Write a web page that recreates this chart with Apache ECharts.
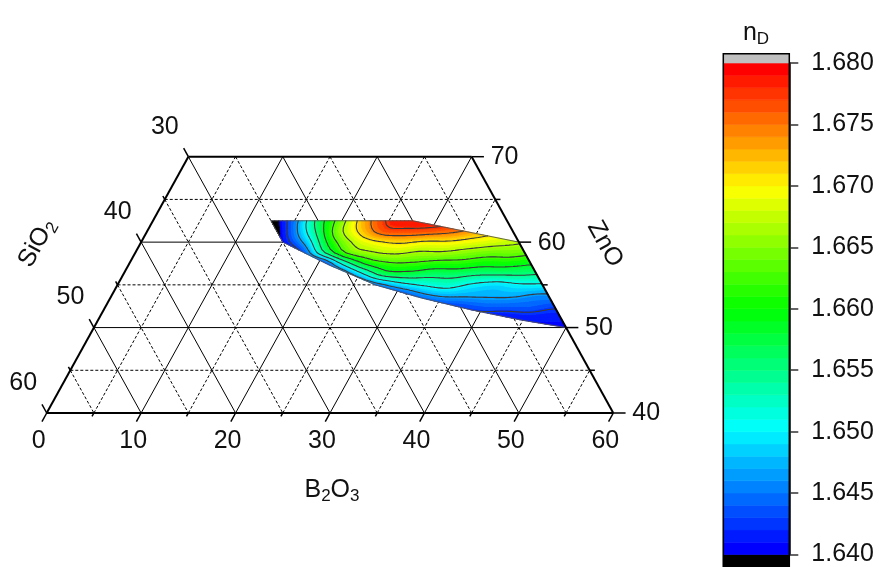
<!DOCTYPE html>
<html>
<head>
<meta charset="utf-8">
<title>nD ternary contour</title>
<script src="https://cdn.jsdelivr.net/npm/echarts@6/dist/echarts.min.js"></script>
<style>
html,body{margin:0;padding:0;background:#fff;}
#chart{width:880px;height:567px;}
</style>
</head>
<body>
<div id="chart"></div>
<script>
// ---------- axis ticks ----------
const b2o3Ticks = [0, 10, 20, 30, 40, 50, 60];
const sio2Ticks = [30, 40, 50, 60];
const znoTicks = [40, 50, 60, 70];
const minorStep = 5;

// ---------- sampled field: rows = ZnO level, columns = B2O3 level ----------
const gridB2O3 = [10, 12.5, 15, 17.5, 20, 22.5, 25, 27.5, 30, 32.5, 35, 37.5, 40, 42.5, 45, 47.5, 50];
const gridZnO = [50, 51.25, 52.5, 53.75, 55, 56.25, 57.5, 58.75, 60, 61.25, 62.5];
const nD_Zn50_00 = [1.632,1.632,1.632,1.632,1.632,1.632,1.632,1.633,1.634,1.635,1.637,1.638,1.639,1.640,1.6405,1.6405,1.6405];
const nD_Zn51_25 = [1.632,1.632,1.632,1.632,1.632,1.632,1.633,1.634,1.635,1.637,1.639,1.640,1.641,1.641,1.6415,1.6415,1.6415];
const nD_Zn52_50 = [1.632,1.632,1.632,1.632,1.632,1.633,1.634,1.636,1.638,1.640,1.642,1.643,1.644,1.644,1.644,1.643,1.643];
const nD_Zn53_75 = [1.632,1.632,1.632,1.632,1.633,1.634,1.636,1.638,1.641,1.645,1.647,1.647,1.647,1.647,1.646,1.646,1.645];
const nD_Zn55_00 = [1.632,1.632,1.632,1.633,1.634,1.636,1.640,1.645,1.649,1.651,1.652,1.650,1.649,1.650,1.650,1.649,1.648];
const nD_Zn56_25 = [1.632,1.632,1.633,1.634,1.636,1.641,1.649,1.656,1.657,1.656,1.656,1.655,1.655,1.655,1.654,1.653,1.652];
const nD_Zn57_50 = [1.632,1.633,1.634,1.636,1.640,1.651,1.659,1.662,1.662,1.661,1.661,1.660,1.660,1.659,1.658,1.657,1.656];
const nD_Zn58_75 = [1.632,1.634,1.637,1.642,1.654,1.663,1.666,1.667,1.666,1.666,1.665,1.664,1.664,1.663,1.662,1.661,1.660];
const nD_Zn60_00 = [1.632,1.635,1.6405,1.648,1.660,1.667,1.670,1.671,1.670,1.670,1.669,1.668,1.667,1.666,1.665,1.664,1.663];
const nD_Zn61_25 = [1.632,1.636,1.643,1.653,1.664,1.671,1.676,1.6765,1.676,1.675,1.673,1.671,1.669,1.668,1.667,1.666,1.665];
const nD_Zn62_50 = [1.634,1.638,1.645,1.656,1.665,1.673,1.678,1.679,1.679,1.678,1.677,1.675,1.673,1.672,1.671,1.670,1.669];
const nDGrid = [nD_Zn50_00, nD_Zn51_25, nD_Zn52_50, nD_Zn53_75, nD_Zn55_00, nD_Zn56_25,
                nD_Zn57_50, nD_Zn58_75, nD_Zn60_00, nD_Zn61_25, nD_Zn62_50];

// measured composition region (B2O3, ZnO) boundary
const regionB2O3 = [12.5, 27.5, 40, 50, 44.7, 38.8, 32.8, 27.3, 21.3, 15];
const regionZnO  = [62.5, 62.5, 60, 50, 50.9, 52.1, 53.5, 55.0, 57.3, 60];

// colour scale and contour levels
const nDMin = 1.640, nDMax = 1.680, nDStep = 0.001, nDTickStep = 0.005;
const contourLevels = [1.6425, 1.6465, 1.6505, 1.6545, 1.6585, 1.6625, 1.6665, 1.6705, 1.6745, 1.6775];

const FONT = '"Liberation Sans", Arial, Helvetica, sans-serif';
const TXT = '#111';

// ---------- helpers ----------
function tern2xy(b, z) { return [b + (z - 40) / 2, z - 40]; }
const nBands = Math.round((nDMax - nDMin) / nDStep);
const stops = [[0,0,255],[0,255,255],[0,255,0],[255,255,0],[255,0,0]];
function bandColor(k) {
  if (k < 0) return '#000000';
  if (k >= nBands) return '#c0c0c0';
  const t = k / (nBands - 1) * (stops.length - 1);
  const i = Math.min(stops.length - 2, Math.floor(t)), f = t - i;
  const c = stops[i].map((v, j) => Math.round(v + (stops[i + 1][j] - v) * f));
  return 'rgb(' + c.join(',') + ')';
}
function bandIndex(v) {
  if (v < nDMin) return -1;
  if (v >= nDMax) return nBands;
  return Math.floor((v - nDMin) / nDStep + 1e-9);
}
function ndAt(b, z) {
  const fb = (b - gridB2O3[0]) / (gridB2O3[1] - gridB2O3[0]);
  const fz = (z - gridZnO[0]) / (gridZnO[1] - gridZnO[0]);
  const ib = Math.floor(fb), iz = Math.floor(fz);
  const tb = fb - ib, tz = fz - iz;
  const nB = gridB2O3.length, nZ = gridZnO.length;
  const g = (i, j) => nDGrid[Math.max(0, Math.min(nZ - 1, i))][Math.max(0, Math.min(nB - 1, j))];
  const cr = (p0, p1, p2, p3, t) => 0.5 * (2 * p1 + (-p0 + p2) * t + (2 * p0 - 5 * p1 + 4 * p2 - p3) * t * t + (-p0 + 3 * p1 - 3 * p2 + p3) * t * t * t);
  const r = [];
  for (let m = -1; m <= 2; m++) r.push(cr(g(iz + m, ib - 1), g(iz + m, ib), g(iz + m, ib + 1), g(iz + m, ib + 2), tb));
  return cr(r[0], r[1], r[2], r[3], tz);
}
function clipPoly(poly, f) {
  const out = [], n = poly.length;
  for (let i = 0; i < n; i++) {
    const a = poly[i], b = poly[(i + 1) % n];
    const fa = f(a), fb = f(b);
    if (fa >= 0) out.push(a);
    if ((fa >= 0) !== (fb >= 0)) {
      const t = fa / (fa - fb);
      out.push([a[0] + (b[0] - a[0]) * t, a[1] + (b[1] - a[1]) * t, a[2] + (b[2] - a[2]) * t]);
    }
  }
  return out;
}
function polyPath(poly) {
  let s = 'M' + poly[0][0].toFixed(2) + ' ' + poly[0][1].toFixed(2);
  for (let i = 1; i < poly.length; i++) s += 'L' + poly[i][0].toFixed(2) + ' ' + poly[i][1].toFixed(2);
  return s + 'Z';
}

// ---------- render: grid lines ----------
function renderGridLines(params, api) {
  const P = (b, z) => api.coord(tern2xy(b, z));
  const ch = [];
  const line = (p, q, solid) => ch.push({
    type: 'line', silent: true,
    shape: { x1: p[0], y1: p[1], x2: q[0], y2: q[1] },
    style: { stroke: '#000', lineWidth: 1, lineDash: solid ? null : [3, 2] }
  });
  for (let z = 40 + minorStep; z < 70; z += minorStep) line(P(0, z), P(100 - z, z), z % 10 === 0);
  for (let b = minorStep; b < 60; b += minorStep) line(P(b, 40), P(b, Math.min(70, 100 - b)), b % 10 === 0);
  for (let s = minorStep; s < 60; s += minorStep) {
    const zt = Math.min(70, 100 - s);
    line(P(100 - s - zt, zt), P(60 - s, 40), s % 10 === 0);
  }
  return { type: 'group', children: ch };
}

// ---------- render: contour field ----------
function renderField(params, api) {
  const P = (b, z) => api.coord(tern2xy(b, z));
  const reg = regionB2O3.map((b, i) => P(b, regionZnO[i]));
  let area = 0;
  for (let i = 0; i < reg.length; i++) {
    const a = reg[i], c = reg[(i + 1) % reg.length];
    area += a[0] * c[1] - c[0] * a[1];
  }
  const sg = area > 0 ? 1 : -1;
  const edges = reg.map((a, i) => {
    const c = reg[(i + 1) % reg.length];
    return p => sg * ((c[0] - a[0]) * (p[1] - a[1]) - (c[1] - a[1]) * (p[0] - a[0]));
  });
  const rx = reg.map(p => p[0]), ry = reg.map(p => p[1]);
  const bx0 = Math.min(...rx), bx1 = Math.max(...rx), by0 = Math.min(...ry), by1 = Math.max(...ry);
  const subB = 6, subZ = 3;
  const db = (gridB2O3[1] - gridB2O3[0]) / subB, dz = (gridZnO[1] - gridZnO[0]) / subZ;
  const nb = (gridB2O3.length - 1) * subB, nz = (gridZnO.length - 1) * subZ;
  const V = [];
  for (let j = 0; j <= nz; j++) {
    const row = [];
    for (let i = 0; i <= nb; i++) {
      const b = gridB2O3[0] + i * db, z = gridZnO[0] + j * dz;
      const p = P(b, z);
      row.push([p[0], p[1], ndAt(b, z)]);
    }
    V.push(row);
  }
  const bandPaths = {};
  let linePath = '';
  const handle = (tri) => {
    const xs = tri.map(p => p[0]), ys = tri.map(p => p[1]);
    if (Math.max(...xs) < bx0 || Math.min(...xs) > bx1 || Math.max(...ys) < by0 || Math.min(...ys) > by1) return;
    let poly = tri;
    for (const f of edges) { poly = clipPoly(poly, f); if (poly.length < 3) return; }
    const vs = poly.map(p => p[2]);
    const vmin = Math.min(...vs), vmax = Math.max(...vs);
    const k0 = bandIndex(vmin), k1 = bandIndex(vmax);
    for (let k = k0; k <= k1; k++) {
      let piece = poly;
      if (k >= 0) { const lo = nDMin + k * nDStep; piece = clipPoly(piece, p => p[2] - lo); }
      if (piece.length >= 3 && k < nBands) { const hi = nDMin + (k + 1) * nDStep; piece = clipPoly(piece, p => hi - p[2]); }
      if (piece.length >= 3) bandPaths[k] = (bandPaths[k] || '') + polyPath(piece);
    }
    for (const L of contourLevels) {
      if (L <= vmin || L >= vmax) continue;
      const pts = [];
      for (let i = 0; i < poly.length; i++) {
        const a = poly[i], c = poly[(i + 1) % poly.length];
        if ((a[2] - L) * (c[2] - L) < 0) {
          const t = (L - a[2]) / (c[2] - a[2]);
          pts.push([a[0] + (c[0] - a[0]) * t, a[1] + (c[1] - a[1]) * t]);
        }
      }
      if (pts.length === 2) linePath += 'M' + pts[0][0].toFixed(2) + ' ' + pts[0][1].toFixed(2) + 'L' + pts[1][0].toFixed(2) + ' ' + pts[1][1].toFixed(2);
    }
  };
  for (let j = 0; j < nz; j++) for (let i = 0; i < nb; i++) {
    const a = V[j][i], b = V[j][i + 1], c = V[j + 1][i + 1], d = V[j + 1][i];
    handle([a, b, c]);
    handle([a, c, d]);
  }
  const ch = [];
  Object.keys(bandPaths).forEach(k => {
    const col = bandColor(+k);
    ch.push({ type: 'path', silent: true, shape: { pathData: bandPaths[k] }, style: { fill: col, stroke: col, lineWidth: 0.7 } });
  });
  if (linePath) ch.push({ type: 'path', silent: true, shape: { pathData: linePath }, style: { fill: 'none', stroke: '#3a3a3a', lineWidth: 1.1, lineCap: 'round', lineJoin: 'round' } });
  ch.push({ type: 'polygon', silent: true, shape: { points: reg }, style: { fill: 'none', stroke: '#555', lineWidth: 0.9 } });
  return { type: 'group', children: ch };
}

// ---------- render: frame, ticks, labels ----------
function renderFrame(params, api) {
  const P = (b, z) => api.coord(tern2xy(b, z));
  const ch = [];
  const seg = (p, q, w) => ch.push({ type: 'line', silent: true, shape: { x1: p[0], y1: p[1], x2: q[0], y2: q[1] }, style: { stroke: '#000', lineWidth: w } });
  const text = (x, y, s, align) => ch.push({ type: 'text', silent: true, x: x, y: y,
    style: { text: s, fill: TXT, fontSize: 25, fontFamily: FONT, align: align, verticalAlign: 'middle', textAlign: align, textVerticalAlign: 'middle' } });
  seg(P(0, 40), P(60, 40), 2);
  seg(P(0, 70), P(30, 70), 2);
  seg(P(0, 40), P(0, 70), 2);
  seg(P(30, 70), P(60, 40), 2);
  for (let b = 0; b <= 60; b += minorStep) { const L = b % 10 === 0 ? 1.0 : 0.4; seg(P(b, 40), P(b, 40 - L), 1.5); }
  for (let z = 40; z <= 70; z += minorStep) { const L = z % 10 === 0 ? 1.3 : 0.55; seg(P(100 - z, z), P(100 - z + L, z), 1.5); }
  for (let s = 30; s <= 60; s += minorStep) { const L = s % 10 === 0 ? 1.0 : 0.4; seg(P(0, 100 - s), P(-L, 100 - s + L), 1.5); }
  b2o3Ticks.forEach(b => { const p = P(b, 40); text(p[0] - 8, p[1] + 28.5, String(b), 'center'); });
  znoTicks.forEach(z => { const p = P(100 - z, z); text(p[0] + 19, p[1] + 0.5, String(z), 'left'); });
  sio2Ticks.forEach(s => { const p = P(0, 100 - s); text(p[0] - 23.5, p[1] - 30, String(s), 'center'); });
  return { type: 'group', children: ch };
}

// ---------- render: colour bar ----------
function renderBar(params, api) {
  const ch = [];
  const topExtra = 0.00075;
  const rect = (lo, hi, fill, stroke, lw) => {
    const p = api.coord([0, hi]), q = api.coord([1, lo]);
    ch.push({ type: 'rect', silent: true, shape: { x: p[0], y: p[1], width: q[0] - p[0], height: q[1] - p[1] },
      style: { fill: fill, stroke: stroke, lineWidth: lw } });
  };
  rect(nDMin - nDStep, nDMin, bandColor(-1), bandColor(-1), 0.6);
  for (let k = 0; k < nBands; k++) rect(nDMin + k * nDStep, nDMin + (k + 1) * nDStep, bandColor(k), bandColor(k), 0.6);
  rect(nDMax, nDMax + topExtra, bandColor(nBands), bandColor(nBands), 0.6);
  rect(nDMin - nDStep, nDMax + topExtra, 'none', '#000', 1.5);
  return { type: 'group', children: ch };
}

const rich = {
  m: { fontSize: 25, fontFamily: FONT, fill: TXT, color: TXT, lineHeight: 30 },
  s: { fontSize: 17, fontFamily: FONT, fill: TXT, color: TXT, lineHeight: 16, verticalAlign: 'bottom' }
};
function title(x, y, txt, rotDeg) {
  return { type: 'text', x: x, y: y, rotation: rotDeg * Math.PI / 180, silent: true,
    style: { text: txt, rich: rich, fill: TXT, fontSize: 25, fontFamily: FONT,
      align: 'center', verticalAlign: 'middle', textAlign: 'center', textVerticalAlign: 'middle' } };
}

const chart = echarts.init(document.getElementById('chart'), null, { renderer: 'canvas' });
chart.setOption({
  animation: false,
  backgroundColor: '#ffffff',
  grid: [
    { left: 46.7, top: 156.7, width: 566.6, height: 256.3 },
    { left: 723.3, top: 63, width: 66, height: 494 }
  ],
  xAxis: [
    { gridIndex: 0, type: 'value', min: 0, max: 60, show: false },
    { gridIndex: 1, type: 'value', min: 0, max: 1, show: false }
  ],
  yAxis: [
    { gridIndex: 0, type: 'value', min: 0, max: 30, show: false },
    { gridIndex: 1, type: 'value', min: nDMin, max: nDMax, interval: nDTickStep, position: 'right',
      axisLine: { show: true, onZero: false, lineStyle: { color: '#000', width: 1.5 } },
      axisTick: { show: true, length: 9, lineStyle: { color: '#333', width: 1.5 } },
      splitLine: { show: false },
      axisLabel: { margin: 22, fontSize: 25, fontFamily: FONT, color: TXT, formatter: v => v.toFixed(3) } }
  ],
  graphic: [
    title(37, 243, '{m|SiO}{s|2}', 61),
    title(605, 244, '{m|ZnO}', -61),
    title(332, 490, '{m|B}{s|2}{m|O}{s|3}', 0),
    title(756, 33, '{m|n}{s|D}', 0)
  ],
  series: [
    { type: 'custom', name: 'grid', coordinateSystem: 'cartesian2d', xAxisIndex: 0, yAxisIndex: 0, clip: false, z: 1,
      data: [[30, 15]], renderItem: renderGridLines, silent: true },
    { type: 'custom', name: 'nD', coordinateSystem: 'cartesian2d', xAxisIndex: 0, yAxisIndex: 0, clip: false, z: 2,
      data: [[30, 15]], renderItem: renderField, silent: true },
    { type: 'custom', name: 'frame', coordinateSystem: 'cartesian2d', xAxisIndex: 0, yAxisIndex: 0, clip: false, z: 3,
      data: [[30, 15]], renderItem: renderFrame, silent: true },
    { type: 'custom', name: 'colorbar', coordinateSystem: 'cartesian2d', xAxisIndex: 1, yAxisIndex: 1, clip: false, z: 1,
      data: [[0.5, 1.66]], renderItem: renderBar, silent: true }
  ]
});
</script>
</body>
</html>
